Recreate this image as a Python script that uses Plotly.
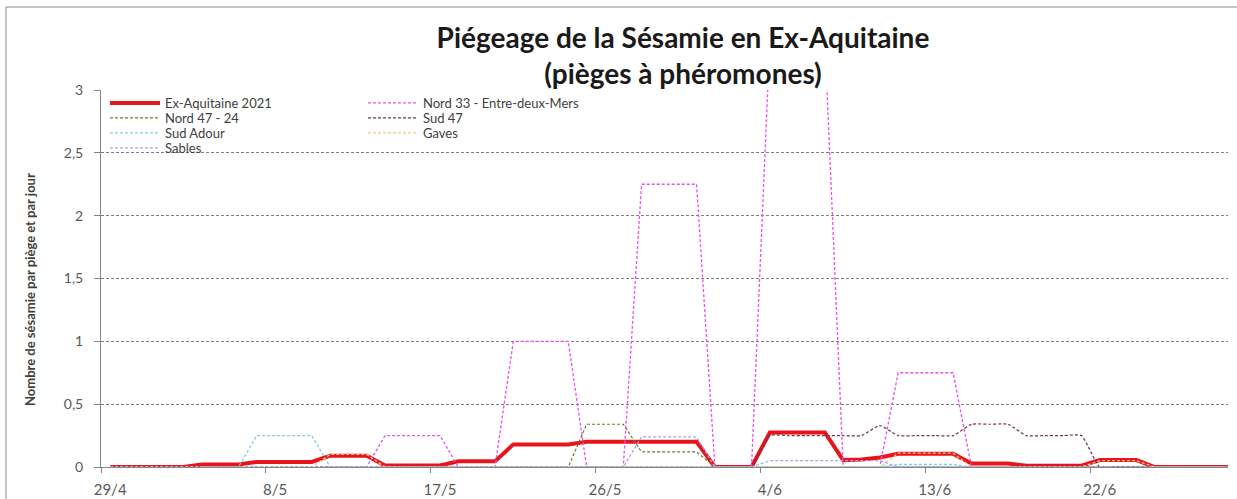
import pandas as pd
import plotly.graph_objects as go

# ---------------- data (one value per day, 29/4 -> 29/6/2021) ----------------
dates = pd.date_range("2021-04-29", "2021-06-29", freq="D")

ex_aquitaine = [0, 0, 0, 0, 0, 0.02, 0.02, 0.02, 0.04, 0.04,
                0.04, 0.04, 0.09, 0.09, 0.09, 0.012, 0.012, 0.012, 0.012, 0.045,
                0.045, 0.045, 0.18, 0.18, 0.18, 0.18, 0.2, 0.2, 0.2, 0.2,
                0.2, 0.2, 0.2, 0, 0, 0, 0.275, 0.275, 0.275, 0.275,
                0.055, 0.06, 0.075, 0.105, 0.105, 0.105, 0.105, 0.028, 0.028, 0.028,
                0.01, 0.01, 0.01, 0.01, 0.055, 0.055, 0.055, 0, 0, 0,
                0, 0]
nord_33 = [0, 0, 0, 0, 0, 0, 0, 0, 0, 0,
           0, 0, 0, 0, 0, 0.25, 0.25, 0.25, 0.25, 0,
           0, 0, 1.0, 1.0, 1.0, 1.0, 0, 0, 0, 2.25,
           2.25, 2.25, 2.25, 0, 0, 0, 3.4, 3.4, 3.4, 3.4,
           0, 0, 0, 0.75, 0.75, 0.75, 0.75, 0, 0, 0,
           0, 0, 0, 0, 0, 0, 0, 0, 0, 0,
           0, 0]
nord_47_24 = [0, 0, 0, 0, 0, 0, 0, 0, 0, 0,
              0, 0, 0, 0, 0, 0, 0, 0, 0, 0,
              0, 0, 0, 0, 0, 0, 0.34, 0.34, 0.34, 0.12,
              0.12, 0.12, 0.12, 0, 0, 0, 0, 0, 0, 0,
              0, 0, 0, 0, 0, 0, 0, 0, 0, 0,
              0, 0, 0, 0, 0, 0, 0, 0, 0, 0,
              0, 0]
sud_47 = [0, 0, 0, 0, 0, 0, 0, 0, 0, 0,
          0, 0, 0, 0, 0, 0, 0, 0, 0, 0,
          0, 0, 0, 0, 0, 0, 0, 0, 0, 0,
          0, 0, 0, 0, 0, 0, 0.25, 0.25, 0.25, 0.25,
          0.25, 0.25, 0.33, 0.25, 0.25, 0.25, 0.25, 0.34, 0.34, 0.34,
          0.25, 0.25, 0.25, 0.25, 0, 0, 0, 0, 0, 0,
          0, 0]
sud_adour = [0, 0, 0, 0, 0, 0, 0, 0, 0.25, 0.25,
             0.25, 0.25, 0, 0, 0, 0, 0, 0, 0, 0,
             0, 0, 0, 0, 0, 0, 0, 0, 0, 0,
             0, 0, 0, 0, 0, 0, 0, 0, 0, 0,
             0, 0, 0, 0.02, 0.02, 0.02, 0.02, 0, 0, 0,
             0, 0, 0, 0, 0, 0, 0, 0, 0, 0,
             0, 0]
gaves = [0, 0, 0, 0, 0, 0, 0, 0, 0, 0,
         0, 0, 0.1, 0.1, 0.1, 0, 0, 0, 0, 0,
         0, 0, 0, 0, 0, 0, 0, 0, 0, 0,
         0, 0, 0, 0, 0, 0, 0, 0, 0, 0,
         0, 0, 0, 0.11, 0.11, 0.11, 0.11, 0, 0, 0,
         0, 0, 0, 0, 0.05, 0.05, 0.05, 0, 0, 0,
         0, 0]
sables = [0, 0, 0, 0, 0, 0, 0, 0, 0, 0,
          0, 0, 0, 0, 0, 0, 0, 0, 0, 0,
          0, 0, 0, 0, 0, 0, 0, 0, 0, 0.24,
          0.24, 0.24, 0.24, 0, 0, 0, 0.05, 0.05, 0.05, 0.05,
          0.05, 0.05, 0.05, 0, 0, 0, 0, 0, 0, 0,
          0, 0, 0, 0, 0, 0, 0, 0, 0, 0,
          0, 0]

series_names = ["Ex-Aquitaine 2021", "Nord 33 - Entre-deux-Mers", "Nord 47 - 24",
                "Sud 47", "Sud Adour", "Gaves", "Sables"]

x_tick_dates = ["2021-04-29", "2021-05-08", "2021-05-17", "2021-05-26",
                "2021-06-04", "2021-06-13", "2021-06-22"]
x_tick_labels = ["29/4", "8/5", "17/5", "26/5", "4/6", "13/6", "22/6"]
y_tick_vals = [0, 0.5, 1, 1.5, 2, 2.5, 3]
y_tick_labels = ["0", "0,5", "1", "1,5", "2", "2,5", "3"]

# ---------------- styling ----------------
W, H = 1237, 499
L, R, T, B = 101, 9, 90, 32
PW, PH = W - L - R, H - T - B


def px_x(px):
    return (px - L) / PW


def px_y(py):
    return (H - B - py) / PH


FONT = "Lato"
DASH = "3px,2px"
# legend rows (two entries per row, like the original two-column legend)
styles = [
    dict(color="#E8141C", width=4, dash="solid", legend="legend", shape="linear"),
    dict(color="#EA4FEA", width=1.3, dash=DASH, legend="legend", shape="linear"),
    dict(color="#76763A", width=1.2, dash=DASH, legend="legend2", shape="linear"),
    dict(color="#6A3457", width=1.2, dash=DASH, legend="legend2", shape="spline"),
    dict(color="#7FCFE0", width=1.3, dash=DASH, legend="legend3", shape="linear"),
    dict(color="#F7C48A", width=1.3, dash=DASH, legend="legend3", shape="linear"),
    dict(color="#A4A6E6", width=1.3, dash=DASH, legend="legend4", shape="linear"),
]
values = [ex_aquitaine, nord_33, nord_47_24, sud_47, sud_adour, gaves, sables]

fig = go.Figure()
for name, vals, st in zip(series_names, values, styles):
    line = dict(color=st["color"], width=st["width"], dash=st["dash"], shape=st["shape"])
    if st["shape"] == "spline":
        line["smoothing"] = 0.5
    fig.add_trace(go.Scatter(
        x=dates, y=vals, mode="lines", name=name, line=line,
        legend=st["legend"], hoverinfo="skip",
    ))

boundaries = [pd.Timestamp(d) - pd.Timedelta(hours=12) for d in x_tick_dates]

legend_font = dict(family=FONT, size=13, color="#404040")


def legend_row(top_px):
    return dict(
        x=px_x(105), y=px_y(top_px), xanchor="left", yanchor="top",
        orientation="h", entrywidth=193, entrywidthmode="pixels",
        bgcolor="rgba(0,0,0,0)", font=legend_font, itemwidth=50,
        traceorder="normal", tracegroupgap=0,
    )


fig.update_layout(
    width=W, height=H,
    margin=dict(l=L, r=R, t=T, b=B, pad=0, autoexpand=False),
    paper_bgcolor="white", plot_bgcolor="white",
    font=dict(family=FONT, size=14, color="#595959"),
    title=dict(
        text="<b>Piégeage de la Sésamie en Ex-Aquitaine<br>(pièges à phéromones)</b>",
        x=683 / W, xanchor="center", xref="container",
        y=1 - 48 / H, yanchor="middle", yref="container",
        font=dict(family=FONT, size=28, color="#1a1a1a"),
    ),
    xaxis=dict(
        type="date", automargin=False,
        range=["2021-04-28 12:00", "2021-06-29 00:00"],
        tickmode="array", tickvals=x_tick_dates, ticktext=x_tick_labels,
        ticks="", showgrid=False, zeroline=False, ticklabelstandoff=9,
        showline=True, linecolor="#868686", linewidth=1,
        tickfont=dict(family=FONT, size=15, color="#595959"),
        minor=dict(tickmode="array", tickvals=boundaries, ticks="outside",
                   ticklen=5, tickcolor="#868686", showgrid=False),
    ),
    yaxis=dict(
        range=[0, 3], automargin=False,
        tickmode="array", tickvals=y_tick_vals, ticktext=y_tick_labels,
        ticks="outside", ticklen=6, tickcolor="#868686", ticklabelstandoff=8,
        showgrid=True, gridcolor="#7F7F7F", griddash=DASH, gridwidth=1,
        zeroline=False, showline=True, linecolor="#868686", linewidth=1,
        tickfont=dict(family=FONT, size=14, color="#595959"),
    ),
    legend=legend_row(88),
    legend2=legend_row(103),
    legend3=legend_row(118),
    legend4=legend_row(133),
    showlegend=True,
)

# white area behind the legend (hides the gridline there)
fig.add_shape(type="rect", xref="paper", yref="paper",
              x0=px_x(102), x1=px_x(615), y0=px_y(170), y1=px_y(94),
              fillcolor="white", line=dict(width=0), layer="between")
# outer chart frame
fig.add_shape(type="rect", xref="paper", yref="paper",
              x0=px_x(6), x1=px_x(1245), y0=px_y(510), y1=px_y(7),
              fillcolor="rgba(0,0,0,0)", line=dict(color="#8C8C8C", width=1), layer="above")

fig.add_annotation(
    text="Nombre de sésamie par piège et par jour", textangle=-90,
    xref="paper", yref="paper", x=px_x(30), y=px_y(290),
    xanchor="center", yanchor="middle", showarrow=False,
    font=dict(family=FONT, size=13, color="#404040", weight="bold"),
)

fig.write_html("out.html", config={"displayModeBar": False},
               post_script="document.body.style.margin='0px';")
